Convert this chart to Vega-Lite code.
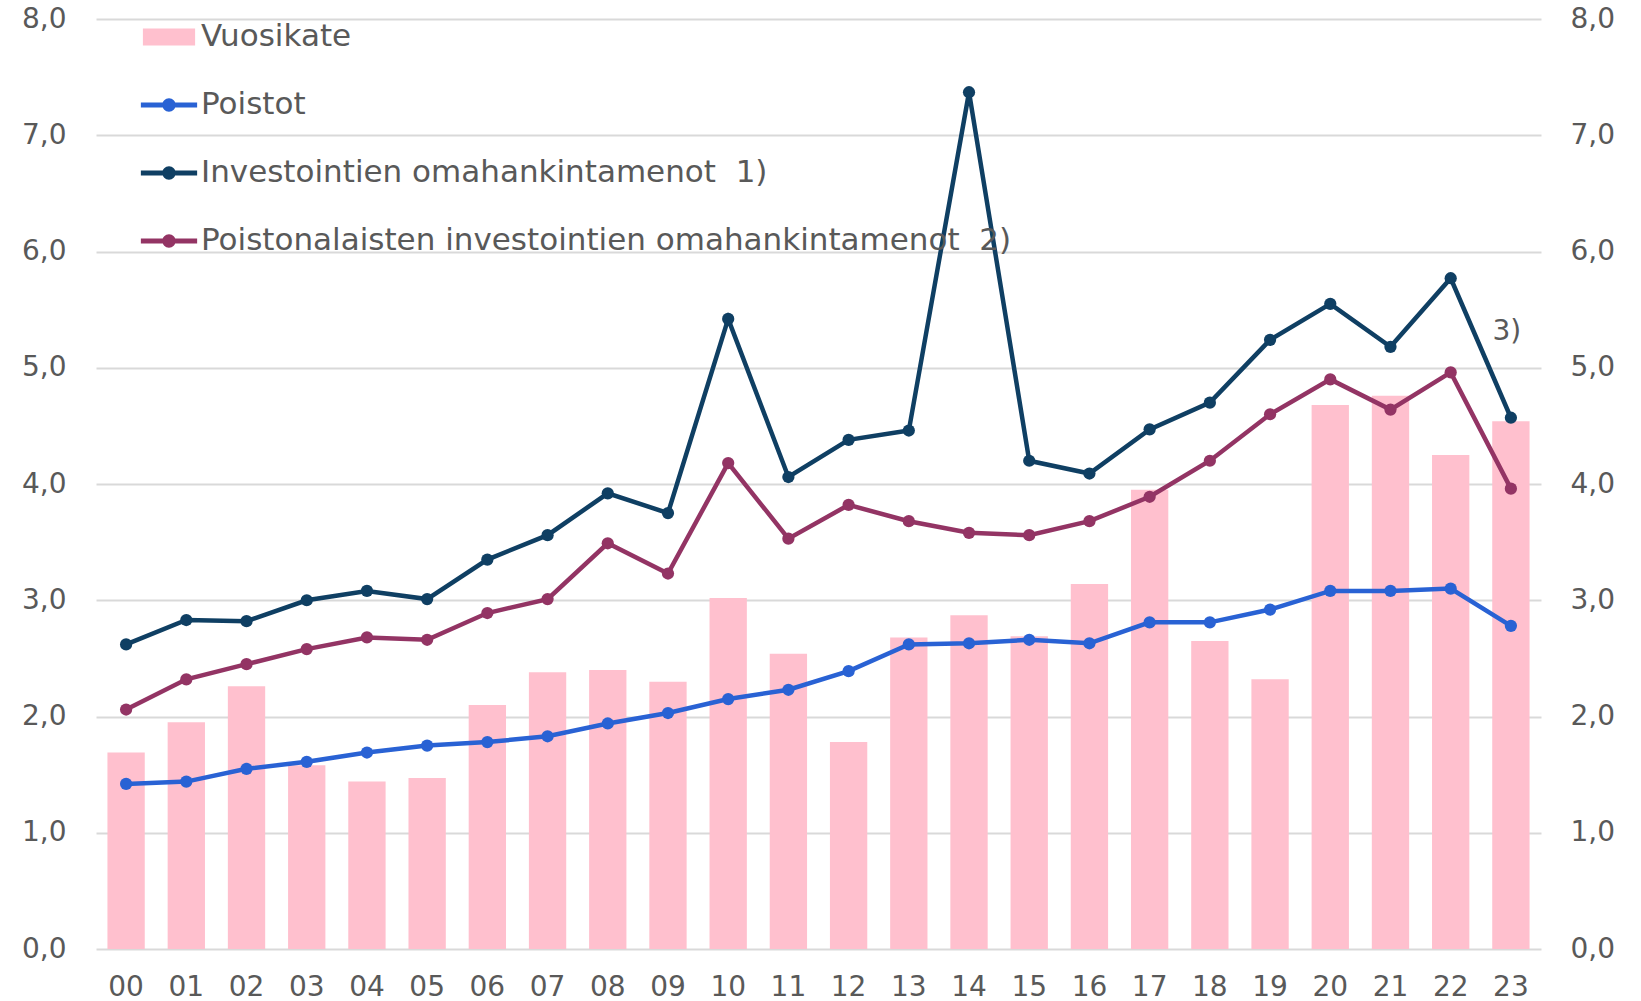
{
  "$schema": "https://vega.github.io/schema/vega-lite/v6.json",
  "width": 1445,
  "height": 930,
  "autosize": {"type": "none"},
  "padding": {"left": 96, "top": 19, "right": 100, "bottom": 52},
  "background": "white",
  "config": {
    "view": {"stroke": null},
    "font": "DejaVu Sans",
    "axis": {"labelFont": "DejaVu Sans", "labelFontSize": 28, "labelColor": "#595959"}
  },
  "data": {
    "values": [
      {"v": "00", "s": "Vuosikate", "y": 1.69},
      {"v": "01", "s": "Vuosikate", "y": 1.95},
      {"v": "02", "s": "Vuosikate", "y": 2.26},
      {"v": "03", "s": "Vuosikate", "y": 1.58},
      {"v": "04", "s": "Vuosikate", "y": 1.44},
      {"v": "05", "s": "Vuosikate", "y": 1.47},
      {"v": "06", "s": "Vuosikate", "y": 2.10},
      {"v": "07", "s": "Vuosikate", "y": 2.38},
      {"v": "08", "s": "Vuosikate", "y": 2.40},
      {"v": "09", "s": "Vuosikate", "y": 2.30},
      {"v": "10", "s": "Vuosikate", "y": 3.02},
      {"v": "11", "s": "Vuosikate", "y": 2.54},
      {"v": "12", "s": "Vuosikate", "y": 1.78},
      {"v": "13", "s": "Vuosikate", "y": 2.68},
      {"v": "14", "s": "Vuosikate", "y": 2.87},
      {"v": "15", "s": "Vuosikate", "y": 2.69},
      {"v": "16", "s": "Vuosikate", "y": 3.14},
      {"v": "17", "s": "Vuosikate", "y": 3.95},
      {"v": "18", "s": "Vuosikate", "y": 2.65},
      {"v": "19", "s": "Vuosikate", "y": 2.32},
      {"v": "20", "s": "Vuosikate", "y": 4.68},
      {"v": "21", "s": "Vuosikate", "y": 4.76},
      {"v": "22", "s": "Vuosikate", "y": 4.25},
      {"v": "23", "s": "Vuosikate", "y": 4.54},
      {"v": "00", "s": "Poistot", "y": 1.42},
      {"v": "01", "s": "Poistot", "y": 1.44},
      {"v": "02", "s": "Poistot", "y": 1.55},
      {"v": "03", "s": "Poistot", "y": 1.61},
      {"v": "04", "s": "Poistot", "y": 1.69},
      {"v": "05", "s": "Poistot", "y": 1.75},
      {"v": "06", "s": "Poistot", "y": 1.78},
      {"v": "07", "s": "Poistot", "y": 1.83},
      {"v": "08", "s": "Poistot", "y": 1.94},
      {"v": "09", "s": "Poistot", "y": 2.03},
      {"v": "10", "s": "Poistot", "y": 2.15},
      {"v": "11", "s": "Poistot", "y": 2.23},
      {"v": "12", "s": "Poistot", "y": 2.39},
      {"v": "13", "s": "Poistot", "y": 2.62},
      {"v": "14", "s": "Poistot", "y": 2.63},
      {"v": "15", "s": "Poistot", "y": 2.66},
      {"v": "16", "s": "Poistot", "y": 2.63},
      {"v": "17", "s": "Poistot", "y": 2.81},
      {"v": "18", "s": "Poistot", "y": 2.81},
      {"v": "19", "s": "Poistot", "y": 2.92},
      {"v": "20", "s": "Poistot", "y": 3.08},
      {"v": "21", "s": "Poistot", "y": 3.08},
      {"v": "22", "s": "Poistot", "y": 3.10},
      {"v": "23", "s": "Poistot", "y": 2.78},
      {"v": "00", "s": "Investointien omahankintamenot\u00a0 1)", "y": 2.62},
      {"v": "01", "s": "Investointien omahankintamenot\u00a0 1)", "y": 2.83},
      {"v": "02", "s": "Investointien omahankintamenot\u00a0 1)", "y": 2.82},
      {"v": "03", "s": "Investointien omahankintamenot\u00a0 1)", "y": 3.00},
      {"v": "04", "s": "Investointien omahankintamenot\u00a0 1)", "y": 3.08},
      {"v": "05", "s": "Investointien omahankintamenot\u00a0 1)", "y": 3.01},
      {"v": "06", "s": "Investointien omahankintamenot\u00a0 1)", "y": 3.35},
      {"v": "07", "s": "Investointien omahankintamenot\u00a0 1)", "y": 3.56},
      {"v": "08", "s": "Investointien omahankintamenot\u00a0 1)", "y": 3.92},
      {"v": "09", "s": "Investointien omahankintamenot\u00a0 1)", "y": 3.75},
      {"v": "10", "s": "Investointien omahankintamenot\u00a0 1)", "y": 5.42},
      {"v": "11", "s": "Investointien omahankintamenot\u00a0 1)", "y": 4.06},
      {"v": "12", "s": "Investointien omahankintamenot\u00a0 1)", "y": 4.38},
      {"v": "13", "s": "Investointien omahankintamenot\u00a0 1)", "y": 4.46},
      {"v": "14", "s": "Investointien omahankintamenot\u00a0 1)", "y": 7.37},
      {"v": "15", "s": "Investointien omahankintamenot\u00a0 1)", "y": 4.20},
      {"v": "16", "s": "Investointien omahankintamenot\u00a0 1)", "y": 4.09},
      {"v": "17", "s": "Investointien omahankintamenot\u00a0 1)", "y": 4.47},
      {"v": "18", "s": "Investointien omahankintamenot\u00a0 1)", "y": 4.70},
      {"v": "19", "s": "Investointien omahankintamenot\u00a0 1)", "y": 5.24},
      {"v": "20", "s": "Investointien omahankintamenot\u00a0 1)", "y": 5.55},
      {"v": "21", "s": "Investointien omahankintamenot\u00a0 1)", "y": 5.18},
      {"v": "22", "s": "Investointien omahankintamenot\u00a0 1)", "y": 5.77},
      {"v": "23", "s": "Investointien omahankintamenot\u00a0 1)", "y": 4.57},
      {"v": "00", "s": "Poistonalaisten investointien omahankintamenot\u00a0 2)", "y": 2.06},
      {"v": "01", "s": "Poistonalaisten investointien omahankintamenot\u00a0 2)", "y": 2.32},
      {"v": "02", "s": "Poistonalaisten investointien omahankintamenot\u00a0 2)", "y": 2.45},
      {"v": "03", "s": "Poistonalaisten investointien omahankintamenot\u00a0 2)", "y": 2.58},
      {"v": "04", "s": "Poistonalaisten investointien omahankintamenot\u00a0 2)", "y": 2.68},
      {"v": "05", "s": "Poistonalaisten investointien omahankintamenot\u00a0 2)", "y": 2.66},
      {"v": "06", "s": "Poistonalaisten investointien omahankintamenot\u00a0 2)", "y": 2.89},
      {"v": "07", "s": "Poistonalaisten investointien omahankintamenot\u00a0 2)", "y": 3.01},
      {"v": "08", "s": "Poistonalaisten investointien omahankintamenot\u00a0 2)", "y": 3.49},
      {"v": "09", "s": "Poistonalaisten investointien omahankintamenot\u00a0 2)", "y": 3.23},
      {"v": "10", "s": "Poistonalaisten investointien omahankintamenot\u00a0 2)", "y": 4.18},
      {"v": "11", "s": "Poistonalaisten investointien omahankintamenot\u00a0 2)", "y": 3.53},
      {"v": "12", "s": "Poistonalaisten investointien omahankintamenot\u00a0 2)", "y": 3.82},
      {"v": "13", "s": "Poistonalaisten investointien omahankintamenot\u00a0 2)", "y": 3.68},
      {"v": "14", "s": "Poistonalaisten investointien omahankintamenot\u00a0 2)", "y": 3.58},
      {"v": "15", "s": "Poistonalaisten investointien omahankintamenot\u00a0 2)", "y": 3.56},
      {"v": "16", "s": "Poistonalaisten investointien omahankintamenot\u00a0 2)", "y": 3.68},
      {"v": "17", "s": "Poistonalaisten investointien omahankintamenot\u00a0 2)", "y": 3.89},
      {"v": "18", "s": "Poistonalaisten investointien omahankintamenot\u00a0 2)", "y": 4.20},
      {"v": "19", "s": "Poistonalaisten investointien omahankintamenot\u00a0 2)", "y": 4.60},
      {"v": "20", "s": "Poistonalaisten investointien omahankintamenot\u00a0 2)", "y": 4.90},
      {"v": "21", "s": "Poistonalaisten investointien omahankintamenot\u00a0 2)", "y": 4.64},
      {"v": "22", "s": "Poistonalaisten investointien omahankintamenot\u00a0 2)", "y": 4.96},
      {"v": "23", "s": "Poistonalaisten investointien omahankintamenot\u00a0 2)", "y": 3.96}
    ]
  },
  "encoding": {
    "x": {
      "field": "v", "type": "ordinal", "sort": "ascending",
      "scale": {"paddingInner": 0.38, "paddingOuter": 0.19},
      "axis": {"title": null, "domain": false, "ticks": false, "labelAngle": 0, "labelPadding": 24, "labelBaseline": "top", "grid": false}
    }
  },
  "layer": [
    {
      "transform": [{"filter": "datum.s === 'Vuosikate'"}],
      "mark": {"type": "bar", "opacity": 1},
      "encoding": {
        "y": {
          "field": "y", "type": "quantitative",
          "scale": {"domain": [0, 8], "nice": false},
          "axis": {"title": null, "orient": "left", "values": [0,1,2,3,4,5,6,7,8], "labelExpr": "replace(format(datum.value, '.1f'), '.', ',')", "domain": false, "ticks": false, "labelPadding": 30, "grid": true, "gridColor": "#D9D9D9", "gridWidth": 2}
        },
        "color": {
          "field": "s", "type": "nominal",
          "scale": {
            "domain": ["Vuosikate", "Poistot", "Investointien omahankintamenot\u00a0 1)", "Poistonalaisten investointien omahankintamenot\u00a0 2)"],
            "range": ["#FFC0CE", "#2962D4", "#0F3F63", "#933464"]
          },
          "legend": {
            "title": null,
            "orient": "none",
            "legendX": 44,
            "legendY": -11,
            "direction": "vertical",
            "symbolSize": 3364,
            "symbolType": {"expr": "datum.value === 'Vuosikate' ? 'M-0.9,-0.29 L0.9,-0.29 L0.9,0.29 L-0.9,0.29 Z' : 'M-0.97,-0.09 L0.97,-0.09 L0.97,0.09 L-0.97,0.09 Z M0.23,0 A0.23,0.23 0 1,1 -0.23,0 A0.23,0.23 0 1,1 0.23,0 Z'"},
            "symbolStrokeWidth": 0,
            "symbolOpacity": 1,
            "rowPadding": 24,
            "labelOffset": 3,
            "labelFont": "DejaVu Sans",
            "labelFontSize": 31,
            "labelColor": "#595959",
            "labelLimit": 2000,
            "encode": {
              "symbols": {
                "update": {
                  "fill": {"signal": "scale('color', datum.value)"},
                  "stroke": {"value": "transparent"},
                  "strokeWidth": {"value": 0},
                  "opacity": {"value": 1},
                  "fillOpacity": {"value": 1}
                }
              }
            }
          }
        }
      }
    },
    {
      "transform": [{"filter": "datum.s !== 'Vuosikate'"}],
      "mark": {"type": "line", "strokeWidth": 4.5, "point": {"filled": true, "size": 150}},
      "encoding": {
        "y": {
          "field": "y", "type": "quantitative",
          "axis": {"title": null, "orient": "right", "values": [0,1,2,3,4,5,6,7,8], "labelExpr": "replace(format(datum.value, '.1f'), '.', ',')", "domain": false, "ticks": false, "labelPadding": 29, "grid": false}
        },
        "color": {"field": "s", "type": "nominal"}
      }
    },
    {
      "data": {"values": [{"v": "23", "y": 5.31, "t": "3)"}]},
      "mark": {"type": "text", "font": "DejaVu Sans", "fontSize": 28, "color": "#595959", "dx": -4, "align": "center", "baseline": "middle"},
      "encoding": {
        "y": {"field": "y", "type": "quantitative", "axis": null},
        "text": {"field": "t"}
      }
    }
  ],
  "resolve": {"axis": {"y": "independent"}}
}
